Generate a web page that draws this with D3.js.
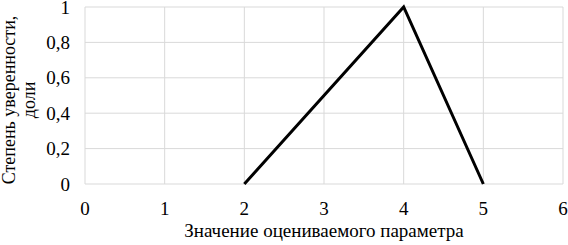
<!DOCTYPE html>
<html><head><meta charset="utf-8">
<script src="https://cdn.jsdelivr.net/npm/d3@7"></script>
<style>body{margin:0;background:#fff}svg{display:block}</style>
</head><body><svg id="c" width="568" height="245"></svg>
<script>
const xValues = [2, 4, 5];
const yValues = [0, 1, 0];
const xTicks = [0, 1, 2, 3, 4, 5, 6];
const yTicks = [0, 0.2, 0.4, 0.6, 0.8, 1];
const xTitle = "Значение оцениваемого параметра";
const yTitleLines = ["Степень уверенности,", "доли"];

const FONT = "Liberation Serif";
const svg = d3.select("#c");
const m = {l: 85, r: 563, t: 7, b: 184};
const x = d3.scaleLinear().domain([0, 6]).range([m.l, m.r]);
const y = d3.scaleLinear().domain([0, 1]).range([m.b, m.t]);
const fmt = d => String(d).replace(".", ",");

// gridlines
svg.append("g").selectAll("line").data(yTicks).join("line")
  .attr("x1", m.l).attr("x2", m.r).attr("y1", d => y(d)).attr("y2", d => y(d))
  .attr("stroke", "#d9d9d9").attr("stroke-width", 1);
svg.append("g").selectAll("line").data(xTicks).join("line")
  .attr("y1", m.t).attr("y2", m.b).attr("x1", d => x(d)).attr("x2", d => x(d))
  .attr("stroke", "#d9d9d9").attr("stroke-width", 1);

// tick labels
svg.append("g").selectAll("text").data(yTicks).join("text")
  .attr("x", 70).attr("y", d => y(d)).attr("dy", "0.35em")
  .attr("text-anchor", "end").attr("font-size", 19).attr("font-family", FONT).text(fmt);
svg.append("g").selectAll("text").data(xTicks).join("text")
  .attr("x", d => x(d)).attr("y", 215)
  .attr("text-anchor", "middle").attr("font-size", 19).attr("font-family", FONT).text(fmt);

// line
const pts = xValues.map((v, i) => [v, yValues[i]]);
svg.append("path").datum(pts)
  .attr("d", d3.line().x(d => x(d[0])).y(d => y(d[1])))
  .attr("fill", "none").attr("stroke", "#000").attr("stroke-width", 3)
  .attr("stroke-linejoin", "miter");

// titles
svg.append("text").attr("x", 324).attr("y", 237).attr("text-anchor", "middle")
  .attr("font-size", 19).attr("font-family", FONT).text(xTitle);
const yt = svg.append("text").attr("transform", "translate(0,100) rotate(-90)")
  .attr("text-anchor", "middle").attr("font-size", 18).attr("font-family", FONT);
yTitleLines.forEach((t, i) => yt.append("tspan").attr("x", 0).attr("y", 15 + i * 20).text(t));
</script></body></html>
